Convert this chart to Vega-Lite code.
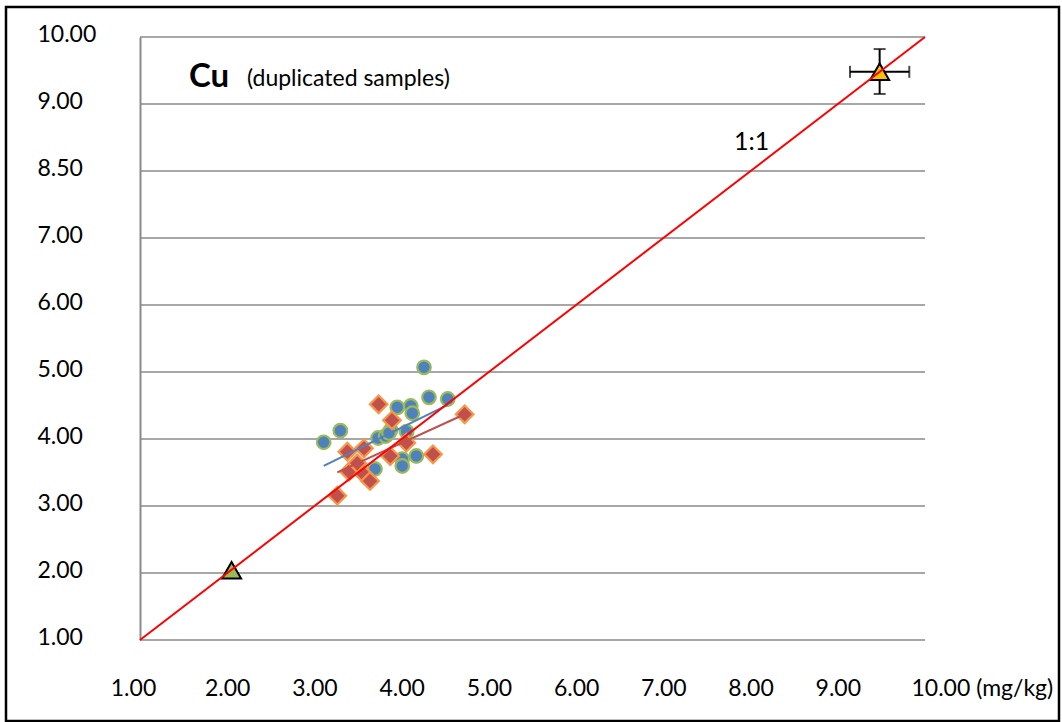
{
  "$schema": "https://vega.github.io/schema/vega-lite/v6.json",
  "autosize": {"type": "none"},
  "padding": {"left": 6, "top": 7, "right": 3, "bottom": 1},
  "width": 1053,
  "height": 714,
  "background": "white",
  "config": {
    "view": {"stroke": "black", "strokeWidth": 2.5},
    "font": "Lato"
  },
  "datasets": {
    "grid": [{"y": 1}, {"y": 2}, {"y": 3}, {"y": 4}, {"y": 5}, {"y": 6}, {"y": 7}, {"y": 8}, {"y": 9}, {"y": 10}],
    "pts": [
      {"set": "A", "x": 4.256, "y": 5.07},
      {"set": "A", "x": 3.297, "y": 4.124},
      {"set": "A", "x": 3.106, "y": 3.951},
      {"set": "A", "x": 4.313, "y": 4.622},
      {"set": "A", "x": 4.528, "y": 4.597},
      {"set": "A", "x": 3.95, "y": 4.473},
      {"set": "A", "x": 4.104, "y": 4.493},
      {"set": "A", "x": 4.122, "y": 4.384},
      {"set": "A", "x": 3.729, "y": 4.015},
      {"set": "A", "x": 3.817, "y": 4.045},
      {"set": "A", "x": 3.874, "y": 4.134},
      {"set": "A", "x": 3.855, "y": 4.09},
      {"set": "A", "x": 4.057, "y": 4.109},
      {"set": "A", "x": 3.694, "y": 3.552},
      {"set": "A", "x": 4.007, "y": 3.701},
      {"set": "A", "x": 4.007, "y": 3.597},
      {"set": "A", "x": 4.168, "y": 3.746},
      {"set": "B", "x": 3.736, "y": 4.518},
      {"set": "B", "x": 4.722, "y": 4.369},
      {"set": "B", "x": 3.889, "y": 4.279},
      {"set": "B", "x": 3.377, "y": 3.81},
      {"set": "B", "x": 3.568, "y": 3.861},
      {"set": "B", "x": 4.053, "y": 3.945},
      {"set": "B", "x": 3.869, "y": 3.746},
      {"set": "B", "x": 4.359, "y": 3.772},
      {"set": "B", "x": 3.396, "y": 3.512},
      {"set": "B", "x": 3.491, "y": 3.637},
      {"set": "B", "x": 3.568, "y": 3.47},
      {"set": "B", "x": 3.637, "y": 3.373},
      {"set": "B", "x": 3.262, "y": 3.154}
    ],
    "lines": [
      {"series": "A", "x": 3.106, "y": 3.6},
      {"series": "A", "x": 4.528, "y": 4.51},
      {"series": "B", "x": 3.262, "y": 3.503},
      {"series": "B", "x": 4.722, "y": 4.369},
      {"series": "1:1", "x": 1, "y": 1},
      {"series": "1:1", "x": 10, "y": 10}
    ],
    "ref": [
      {"name": "low", "x": 2.05, "y": 2.04},
      {"name": "high", "x": 9.48, "y": 9.48, "xlo": 9.14, "xhi": 9.82, "ylo": 9.15, "yhi": 9.82}
    ]
  },
  "layer": [
    {
      "data": {"name": "grid"},
      "mark": {"type": "rule", "color": "#8a8a8a", "strokeWidth": 1.6},
      "encoding": {
        "x": {
          "datum": 1, "type": "quantitative",
          "scale": {"domain": [1, 10], "range": [134, 919], "nice": false, "zero": false},
          "axis": {
            "orient": "bottom", "offset": -33, "values": [1, 2, 3, 4, 5, 6, 7, 8, 9, 10],
            "domain": false, "ticks": false, "tickSize": 0, "grid": false,
            "labelPadding": 0, "labelBaseline": "middle", "labelFlush": false, "labelOverlap": false,
            "labelFont": "Lato", "labelFontSize": 23, "labelColor": "black",
            "labelExpr": "datum.value == 10 ? '10.00 (mg/kg)' : format(datum.value, '.2f')",
            "labelAlign": {"condition": {"test": "datum.value == 10", "value": "left"}, "value": "center"},
            "labelOffset": {"condition": [{"test": "datum.value == 10", "value": -14}, {"test": "datum.value == 1", "value": -7}], "value": 0},
            "title": null
          }
        },
        "x2": {"datum": 10},
        "y": {
          "field": "y", "type": "quantitative",
          "scale": {"domain": [1, 10], "range": [633, 30], "nice": false, "zero": false},
          "axis": {
            "orient": "left", "offset": -134, "values": [1, 2, 3, 4, 5, 6, 7, 8, 9, 10],
            "domain": true, "domainColor": "#8a8a8a", "domainWidth": 2,
            "ticks": false, "tickSize": 0, "grid": false,
            "labelAlign": "left", "labelBaseline": "middle", "labelPadding": 103, "labelOffset": -3,
            "labelFont": "Lato", "labelFontSize": 23, "labelColor": "black",
            "labelExpr": "datum.value == 8 ? '8.50' : format(datum.value, '.2f')",
            "title": null
          }
        }
      }
    },
    {
      "data": {"name": "pts"},
      "transform": [{"filter": "datum.set == 'A'"}],
      "mark": {"type": "point", "shape": "circle", "filled": true, "size": 185, "fill": "#4f81bd", "stroke": "#9bbb59", "strokeWidth": 2.2, "opacity": 1},
      "encoding": {
        "x": {"field": "x", "type": "quantitative"},
        "y": {"field": "y", "type": "quantitative"}
      }
    },
    {
      "data": {"name": "pts"},
      "transform": [{"filter": "datum.set == 'B'"}],
      "mark": {"type": "point", "shape": "diamond", "filled": true, "size": 310, "fill": "#c0504d", "stroke": "#f79646", "strokeWidth": 2.2, "opacity": 1},
      "encoding": {
        "x": {"field": "x", "type": "quantitative"},
        "y": {"field": "y", "type": "quantitative"}
      }
    },
    {
      "data": {"name": "lines"},
      "transform": [{"filter": "datum.series != '1:1'"}],
      "mark": {"type": "line", "strokeWidth": 2},
      "encoding": {
        "x": {"field": "x", "type": "quantitative"},
        "y": {"field": "y", "type": "quantitative"},
        "color": {"field": "series", "type": "nominal", "scale": {"domain": ["A", "B"], "range": ["#4f81bd", "#c0504d"]}, "legend": null}
      }
    },
    {
      "data": {"name": "ref"},
      "transform": [{"filter": "datum.name == 'high'"}],
      "mark": {"type": "errorbar", "ticks": {"size": 12}, "thickness": 2, "color": "black"},
      "encoding": {
        "x": {"field": "xlo", "type": "quantitative"},
        "x2": {"field": "xhi"},
        "y": {"field": "y", "type": "quantitative"}
      }
    },
    {
      "data": {"name": "ref"},
      "transform": [{"filter": "datum.name == 'high'"}],
      "mark": {"type": "errorbar", "ticks": {"size": 12}, "thickness": 2, "color": "black"},
      "encoding": {
        "y": {"field": "ylo", "type": "quantitative"},
        "y2": {"field": "yhi"},
        "x": {"field": "x", "type": "quantitative"}
      }
    },
    {
      "data": {"name": "ref"},
      "mark": {"type": "point", "shape": "triangle-up", "filled": true, "size": 360, "stroke": "black", "strokeWidth": 2, "opacity": 1},
      "encoding": {
        "x": {"field": "x", "type": "quantitative"},
        "y": {"field": "y", "type": "quantitative"},
        "fill": {"field": "name", "type": "nominal", "scale": {"domain": ["low", "high"], "range": ["#9bbb59", "#ffc000"]}, "legend": null}
      }
    },
    {
      "data": {"name": "lines"},
      "transform": [{"filter": "datum.series == '1:1'"}],
      "mark": {"type": "line", "strokeWidth": 2, "color": "#ff0000"},
      "encoding": {
        "x": {"field": "x", "type": "quantitative"},
        "y": {"field": "y", "type": "quantitative"}
      }
    },
    {
      "data": {"values": [{"label": "Cu", "x": 1.562, "y": 9.25}]},
      "mark": {"type": "text", "font": "Lato", "fontSize": 33, "fontWeight": "bold", "align": "left", "baseline": "alphabetic", "color": "black"},
      "encoding": {
        "x": {"field": "x", "type": "quantitative"},
        "y": {"field": "y", "type": "quantitative"},
        "text": {"field": "label"}
      }
    },
    {
      "data": {"values": [{"label": "(duplicated samples)", "x": 2.227, "y": 9.27}]},
      "mark": {"type": "text", "font": "Lato", "fontSize": 23, "align": "left", "baseline": "alphabetic", "color": "black"},
      "encoding": {
        "x": {"field": "x", "type": "quantitative"},
        "y": {"field": "y", "type": "quantitative"},
        "text": {"field": "label"}
      }
    },
    {
      "data": {"values": [{"label": "1:1", "x": 7.81, "y": 8.313}]},
      "mark": {"type": "text", "font": "Lato", "fontSize": 25, "align": "left", "baseline": "alphabetic", "color": "black"},
      "encoding": {
        "x": {"field": "x", "type": "quantitative"},
        "y": {"field": "y", "type": "quantitative"},
        "text": {"field": "label"}
      }
    }
  ]
}
